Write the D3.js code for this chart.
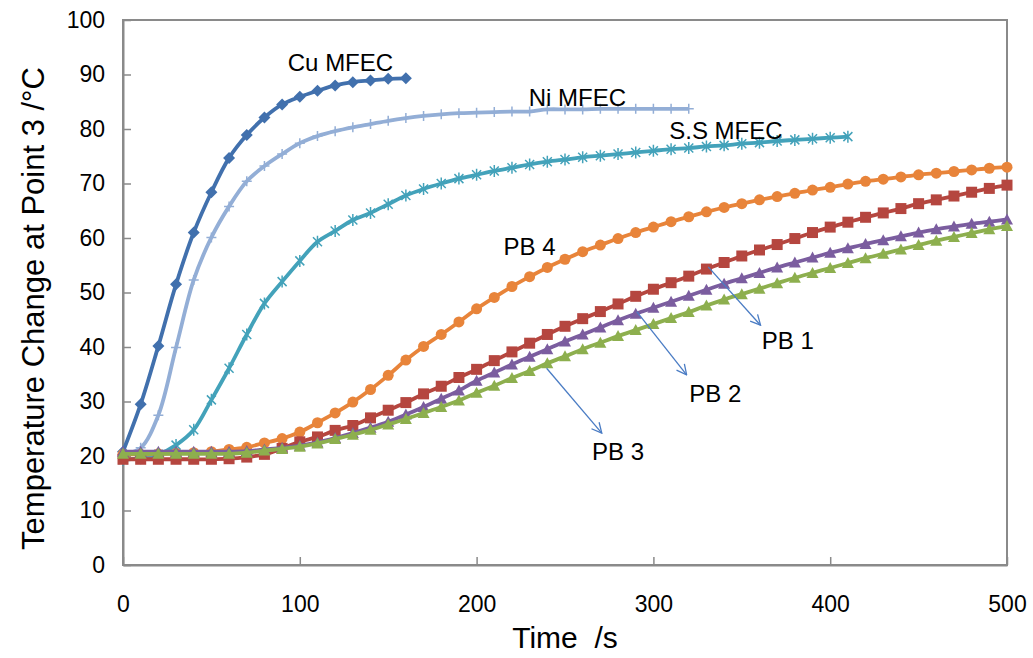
<!DOCTYPE html>
<html>
<head>
<meta charset="utf-8">
<script src="https://cdn.jsdelivr.net/npm/d3@7"></script>
<style>
  html, body { margin: 0; padding: 0; background: #fff; }
  svg { display: block; }
</style>
</head>
<body>
<svg id="chart" width="1033" height="658"></svg>
<script>
// Sampling times (s) shared by all series; each series uses as many as it has values.
const times = [0, 10, 20, 30, 40, 50, 60, 70, 80, 90, 100, 110, 120, 130, 140, 150, 160, 170, 180, 190,
  200, 210, 220, 230, 240, 250, 260, 270, 280, 290, 300, 310, 320, 330, 340, 350, 360, 370, 380, 390,
  400, 410, 420, 430, 440, 450, 460, 470, 480, 490, 500];

// Temperature at point 3 (°C)
const cuMFEC = [20.8, 29.5, 40.2, 51.5, 61.0, 68.4, 74.7, 78.9, 82.1, 84.5, 85.9, 87.0, 88.0, 88.6, 88.9, 89.2, 89.3];
const niMFEC = [20.3, 21.5, 27.5, 39.9, 52.3, 60.1, 65.8, 70.4, 73.2, 75.4, 77.4, 78.7, 79.6, 80.3, 80.9, 81.5, 82.0,
  82.4, 82.7, 82.9, 83.0, 83.1, 83.2, 83.2, 83.6, 83.6, 83.6, 83.7, 83.7, 83.7, 83.7, 83.7, 83.7];
const ssMFEC = [19.3, 19.6, 20.3, 22.0, 24.8, 30.3, 36.1, 42.3, 48.0, 52.0, 55.8, 59.3, 61.3, 63.3, 64.6, 66.2, 67.8,
  69.0, 70.0, 70.9, 71.6, 72.3, 72.9, 73.5, 74.0, 74.4, 74.8, 75.1, 75.4, 75.7, 76.0, 76.3, 76.5, 76.8, 77.0, 77.3,
  77.5, 77.8, 78.0, 78.2, 78.4, 78.6];
const pb4 = [20.3, 20.3, 20.4, 20.5, 20.6, 20.8, 21.2, 21.6, 22.4, 23.2, 24.4, 26.1, 27.9, 29.9, 32.2, 34.8, 37.6,
  40.1, 42.3, 44.6, 47.0, 49.1, 51.1, 52.9, 54.6, 56.1, 57.5, 58.7, 59.9, 61.0, 62.0, 63.0, 63.9, 64.8, 65.6, 66.3,
  67.0, 67.6, 68.2, 68.8, 69.3, 69.9, 70.4, 70.8, 71.2, 71.6, 71.9, 72.2, 72.5, 72.8, 73.0];
const pb1 = [19.4, 19.4, 19.4, 19.4, 19.4, 19.4, 19.5, 19.8, 20.3, 21.4, 22.6, 23.5, 24.7, 25.6, 27.0, 28.4, 29.8,
  31.4, 32.8, 34.4, 35.9, 37.5, 39.1, 40.7, 42.3, 43.8, 45.2, 46.5, 47.9, 49.3, 50.6, 51.8, 53.0, 54.3, 55.5, 56.7,
  57.8, 58.8, 59.9, 61.0, 62.0, 62.9, 63.8, 64.6, 65.4, 66.3, 67.0, 67.7, 68.4, 69.1, 69.7];
const pb2 = [20.8, 20.8, 20.8, 20.8, 20.8, 20.8, 20.8, 20.9, 21.2, 21.5, 21.9, 22.5, 23.3, 24.2, 25.2, 26.3, 27.6,
  29.0, 30.5, 32.0, 33.8, 35.3, 36.8, 38.2, 39.6, 41.0, 42.3, 43.6, 44.9, 46.1, 47.2, 48.3, 49.4, 50.5, 51.6, 52.6,
  53.6, 54.6, 55.5, 56.4, 57.3, 58.1, 58.9, 59.6, 60.3, 61.0, 61.6, 62.1, 62.6, 63.0, 63.4];
const pb3 = [20.4, 20.4, 20.4, 20.4, 20.4, 20.4, 20.4, 20.6, 21.0, 21.3, 21.7, 22.3, 23.1, 23.9, 24.8, 25.8, 26.8,
  27.9, 29.0, 30.2, 31.6, 32.9, 34.3, 35.6, 37.0, 38.3, 39.6, 40.8, 42.0, 43.1, 44.2, 45.3, 46.4, 47.6, 48.7, 49.7,
  50.7, 51.7, 52.7, 53.6, 54.5, 55.4, 56.3, 57.1, 57.9, 58.7, 59.5, 60.2, 60.9, 61.6, 62.2];

const xTicks = [0, 100, 200, 300, 400, 500];
const yTicks = [0, 10, 20, 30, 40, 50, 60, 70, 80, 90, 100];

// Series labels placed in data coordinates [time, temperature]
const seriesLabels = [
  { text: "Cu MFEC", at: [123, 90.6] },
  { text: "Ni MFEC", at: [257, 84.2] },
  { text: "S.S MFEC", at: [341, 78.2] },
  { text: "PB 4", at: [230, 56.9] },
  { text: "PB 1", at: [376, 39.6] },
  { text: "PB 2", at: [335, 29.9] },
  { text: "PB 3", at: [280, 19.2] }
];
// Pointer arrows [from, to] in data coordinates
const pointers = [
  [[331, 54.7], [360.6, 44.0]],
  [[290.6, 46.5], [318.8, 34.9]],
  [[239.6, 36.1], [270.8, 24.2]]
];

const series = [
  { name: "Cu MFEC", values: cuMFEC, color: "#4170ad", marker: "diamond" },
  { name: "Ni MFEC", values: niMFEC, color: "#93aed6", marker: "plus" },
  { name: "S.S MFEC", values: ssMFEC, color: "#43a2ba", marker: "star" },
  { name: "PB 4", values: pb4, color: "#e8843a", marker: "circle" },
  { name: "PB 1", values: pb1, color: "#b5463f", marker: "square" },
  { name: "PB 2", values: pb2, color: "#7b5d9f", marker: "triangle" },
  { name: "PB 3", values: pb3, color: "#8daf4e", marker: "triangle" }
];

const svg = d3.select("#chart");
const plot = { left: 123, right: 1007, top: 20, bottom: 565 };

const x = d3.scaleLinear().domain([0, 500]).range([plot.left, plot.right]);
const y = d3.scaleLinear().domain([0, 100]).range([plot.bottom, plot.top]);

const axisColor = "#8a8a8a";

// Plot frame
svg.append("rect")
  .attr("x", plot.left).attr("y", plot.top)
  .attr("width", plot.right - plot.left).attr("height", plot.bottom - plot.top)
  .attr("fill", "none").attr("stroke", axisColor).attr("stroke-width", 2);

// Y axis (ticks point inward)
const yAxis = svg.append("g")
  .attr("transform", `translate(${plot.left},0)`)
  .call(d3.axisLeft(y).tickValues(yTicks).tickSizeInner(-8).tickSizeOuter(0).tickPadding(18));
yAxis.select(".domain").attr("stroke", axisColor).attr("stroke-width", 2);
yAxis.selectAll(".tick line").attr("stroke", axisColor).attr("stroke-width", 1.5);
yAxis.selectAll("text")
  .attr("font-family", "'Liberation Sans', Arial, sans-serif")
  .attr("font-size", 23).attr("fill", "#000");

// X axis (ticks point inward)
const xAxis = svg.append("g")
  .attr("transform", `translate(0,${plot.bottom})`)
  .call(d3.axisBottom(x).tickValues(xTicks).tickSizeInner(-8).tickSizeOuter(0).tickPadding(31));
xAxis.select(".domain").attr("stroke", axisColor).attr("stroke-width", 2);
xAxis.selectAll(".tick line").attr("stroke", axisColor).attr("stroke-width", 1.5);
xAxis.selectAll("text")
  .attr("font-family", "'Liberation Sans Narrow', 'Liberation Sans', Arial, sans-serif")
  .attr("font-size", 23).attr("fill", "#000");

// Axis titles
svg.append("text")
  .attr("x", (plot.left + plot.right) / 2).attr("y", 648)
  .attr("text-anchor", "middle")
  .attr("font-family", "'Liberation Sans', Arial, sans-serif")
  .attr("font-size", 30).attr("fill", "#000")
  .attr("xml:space", "preserve")
  .text("Time  /s");

svg.append("text")
  .attr("transform", `translate(44,${(plot.top + plot.bottom) / 2 + 16}) rotate(-90)`)
  .attr("text-anchor", "middle")
  .attr("font-family", "'Liberation Sans', Arial, sans-serif")
  .attr("font-size", 31).attr("fill", "#000")
  .text("Temperature Change at Point 3 /°C");

// Marker shapes, centred on the point
function markerPath(kind) {
  switch (kind) {
    case "diamond": return "M0,-6L6,0L0,6L-6,0Z";
    case "square": return "M-5.5,-5.5H5.5V5.5H-5.5Z";
    case "triangle": return "M0,-6L6,5H-6Z";
    case "plus": return "M0,-5V5M-5,0H5";
    case "star": return "M-4.5,-4.5L4.5,4.5M-4.5,4.5L4.5,-4.5M0,-6V6";
    default: return null;
  }
}

const line = d3.line()
  .x(d => x(d[0]))
  .y(d => y(d[1]))
  .curve(d3.curveCatmullRom.alpha(0.5));

series.forEach(s => {
  const pts = s.values.map((v, i) => [times[i], v]);
  const g = svg.append("g").attr("class", "series");
  g.append("path")
    .datum(pts)
    .attr("d", line)
    .attr("fill", "none")
    .attr("stroke", s.color)
    .attr("stroke-width", 3.8)
    .attr("stroke-linejoin", "round");

  const m = g.selectAll(".pt").data(pts).enter();
  if (s.marker === "circle") {
    m.append("circle")
      .attr("cx", d => x(d[0])).attr("cy", d => y(d[1]))
      .attr("r", 5.5).attr("fill", s.color);
  } else if (s.marker === "plus" || s.marker === "star") {
    m.append("path")
      .attr("transform", d => `translate(${x(d[0])},${y(d[1])})`)
      .attr("d", markerPath(s.marker))
      .attr("fill", "none").attr("stroke", s.color).attr("stroke-width", 1.5);
  } else {
    m.append("path")
      .attr("transform", d => `translate(${x(d[0])},${y(d[1])})`)
      .attr("d", markerPath(s.marker))
      .attr("fill", s.color);
  }
});

// Arrowhead definition
const defs = svg.append("defs");
defs.append("marker")
  .attr("id", "openArrow")
  .attr("viewBox", "0 0 12 12")
  .attr("refX", 11).attr("refY", 6)
  .attr("markerWidth", 12).attr("markerHeight", 12)
  .attr("markerUnits", "userSpaceOnUse")
  .attr("orient", "auto")
  .append("path")
  .attr("d", "M1,1L11,6L1,11")
  .attr("fill", "none").attr("stroke", "#4a7cc4").attr("stroke-width", 1.3);

pointers.forEach(p => {
  svg.append("line")
    .attr("x1", x(p[0][0])).attr("y1", y(p[0][1]))
    .attr("x2", x(p[1][0])).attr("y2", y(p[1][1]))
    .attr("stroke", "#4a7cc4").attr("stroke-width", 1.3)
    .attr("marker-end", "url(#openArrow)");
});

// Series labels
seriesLabels.forEach(l => {
  svg.append("text")
    .attr("x", x(l.at[0])).attr("y", y(l.at[1]))
    .attr("text-anchor", "middle")
    .attr("font-family", "'Liberation Sans', Arial, sans-serif")
    .attr("font-size", 24).attr("fill", "#000")
    .text(l.text);
});
</script>
</body>
</html>
